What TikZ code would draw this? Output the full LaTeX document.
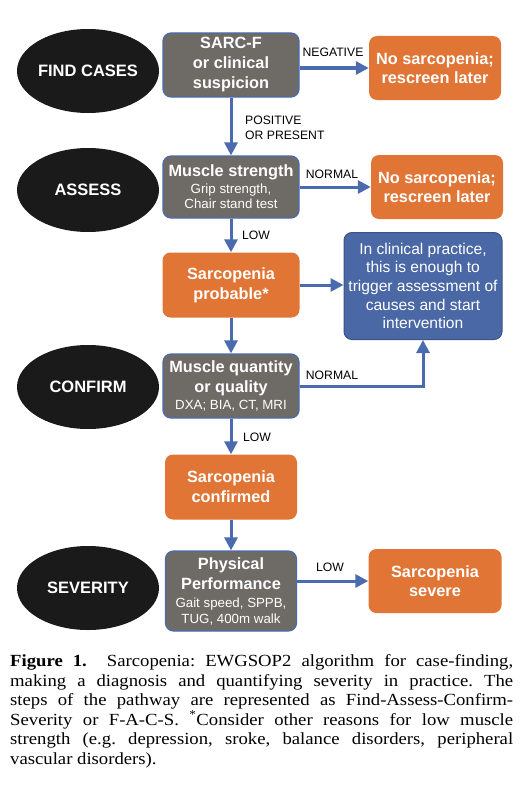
\documentclass[tikz,border=0pt]{standalone}
\usepackage{fontspec}
\setmainfont[FakeStretch=1.1]{Liberation Serif}
\setsansfont{Liberation Sans}
\usetikzlibrary{shapes.geometric,arrows.meta}

\newcommand{\detail}[1]{{\mdseries\fontsize{13.3}{15}\selectfont #1}}

\begin{document}
\begin{tikzpicture}[x=1pt, y=-1pt, >={Triangle[length=13pt,width=13pt]},
    stage/.style={ellipse, fill=stageBlack, text=white, inner sep=0,
      minimum width=142, minimum height=84,
      font=\sffamily\bfseries\fontsize{16.5}{20}\selectfont},
    box/.style={rectangle, rounded corners=8, align=center, inner sep=0,
      text=white, minimum width=136, minimum height=64,
      font=\sffamily\bfseries\fontsize{16.3}{20}\selectfont},
    testbox/.style={box, fill=testGray, draw=linkBlue, line width=1.2},
    outbox/.style={box, fill=outOrange, minimum width=132},
    link/.style={draw=linkBlue, line width=3, ->},
    tag/.style={inner sep=0, align=left,
      font=\sffamily\fontsize{12.2}{15}\selectfont}]

  \definecolor{stageBlack}{HTML}{1A1A1A}
  \definecolor{testGray}{HTML}{6E6A65}
  \definecolor{outOrange}{HTML}{E07536}
  \definecolor{noteBlue}{HTML}{4A68A6}
  \definecolor{linkBlue}{HTML}{4A6BAE}

  \useasboundingbox (0,0) rectangle (527,808);

  % the four steps
  \foreach \name/\y/\txt in {find/71/FIND CASES, assess/190/ASSESS,
      confirm/387/CONFIRM, severity/588/SEVERITY}
    \node[stage] (\name) at (88,\y) {\txt};

  % tests and outcomes, main column
  \node[testbox] (sarcf) at (231,65) {SARC-F\\or clinical\\suspicion};
  \node[testbox, minimum height=62] (strength) at (231,187)
    {Muscle strength\\[-3pt]\detail{Grip strength,}\\[-5pt]\detail{Chair stand test}};
  \node[outbox, minimum width=137, minimum height=65] (probable) at (231,285)
    {Sarcopenia\\probable*};
  \node[testbox] (quantity) at (231,386)
    {Muscle quantity\\or quality\\[-3pt]\detail{DXA; BIA, CT, MRI}};
  \node[outbox, minimum height=65] (confirmed) at (231,487)
    {Sarcopenia\\confirmed};
  \node[testbox, minimum width=131, minimum height=80] (perform) at (231,591)
    {Physical\\Performance\\[-2pt]\detail{Gait speed, SPPB,}\\[-4pt]\detail{TUG, 400m walk}};

  % outcomes on the right
  \node[outbox] (none1) at (435,68) {No sarcopenia;\\[-1pt]rescreen later};
  \node[outbox] (none2) at (437,187) {No sarcopenia;\\[-1pt]rescreen later};
  \node[box, fill=noteBlue, draw=noteBlue!80!black, line width=1,
    minimum width=158, minimum height=107,
    font=\sffamily\fontsize{15.6}{18.7}\selectfont] (note) at (423,286)
    {In clinical practice,\\this is enough to\\trigger assessment of\\causes and start\\intervention};
  \node[outbox, minimum width=133] (severe) at (435,581) {Sarcopenia\\[-1pt]severe};

  % connectors
  \draw[link] (sarcf) -- (strength);
  \draw[link] (strength) -- (probable);
  \draw[link] (probable) -- (quantity);
  \draw[link] (quantity) -- (confirmed);
  \draw[link] (confirmed) -- (perform);
  \draw[link] (sarcf.east |- none1.west) -- (none1.west);
  \draw[link] (strength.east) -- (none2.west);
  \draw[link] (probable.east) -- (note.west |- probable.east);
  \draw[link] (quantity.east) -| (note.south);
  \draw[link] (perform.east |- severe.west) -- (severe.west);

  % connector labels
  \node[tag] (negative) at (333,52) {NEGATIVE};
  \node[tag, anchor=west] (positive) at (245,127.5) {POSITIVE\\OR PRESENT};
  \node[tag] (normal1) at (332,174) {NORMAL};
  \node[tag] (low1) at (256,235) {LOW};
  \node[tag] (normal2) at (332,375) {NORMAL};
  \node[tag] (low2) at (257,437) {LOW};
  \node[tag] (low3) at (330,567) {LOW};

  % caption
  \node[anchor=north west, inner sep=0, text width=503, align=justify,
    font=\rmfamily\fontsize{17}{19.5}\selectfont] (caption) at (10,654.5)
    {\hyphenpenalty=10000\frenchspacing\textbf{Figure 1.}~ Sarcopenia: EWGSOP2 algorithm for case-finding,\linebreak
     making a diagnosis and quantifying severity in practice. The\linebreak
     steps of the pathway are represented as Find-Assess-Confirm-\linebreak
     Severity or F-A-C-S. \textsuperscript{*}Consider other reasons for low muscle\linebreak
     strength (e.g. depression, sroke, balance disorders, peripheral\linebreak
     vascular disorders).};

\end{tikzpicture}
\end{document}
